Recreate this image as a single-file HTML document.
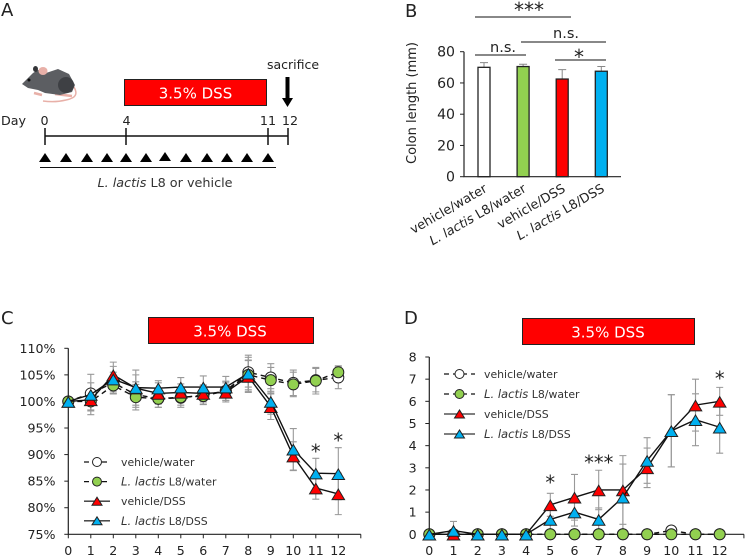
<!DOCTYPE html>
<html lang="en">
<head>
<meta charset="utf-8">
<title>DSS colitis figure</title>
<style>
html,body{margin:0;padding:0;background:#fff;}
svg{display:block;font-family:"DejaVu Sans","Liberation Sans",sans-serif;fill:#222;}
</style>
</head>
<body>
<svg id="fig" width="745" height="558" viewBox="0 0 745 558" xmlns="http://www.w3.org/2000/svg">
<rect x="0" y="0" width="745" height="558" fill="#fff"/>

<!-- Panel A -->
<g>
<text x="1" y="16" font-size="18">A</text>
<g>
<path d="M74 87 C78 94 76 98 66 100 C58 102 50 102 43 101" fill="none" stroke="#e8b0a8" stroke-width="1.500"/>
<path d="M34 93 L42 95 M55 94 L72 96" stroke="#e8b0a8" stroke-width="2.500" fill="none"/>
<path d="M22 84 L33 73 L38 70 L46 73 L58 69 L69 74 L75 85 L72 92 L60 95 L45 93 L38 90 L28 88 Z" fill="#5c5e62"/>
<ellipse cx="43" cy="71" rx="4.500" ry="4" fill="#e8b0a8"/>
<ellipse cx="35.500" cy="69" rx="2.500" ry="3" fill="#333538"/>
<circle cx="29" cy="80" r="1.500" fill="#111"/>
<ellipse cx="66" cy="85" rx="8" ry="8" fill="#3e4044"/>
</g>
<rect x="124.500" y="79.500" width="142" height="26" fill="#ff0000" stroke="#222" stroke-width="1"/>
<text x="195.500" y="98.500" font-size="15" text-anchor="middle" fill="#fff">3.5% DSS</text>
<text x="267" y="69" font-size="12.500">sacrifice</text>
<path d="M285.500 77 H289.500 V98 H293 L287.500 107 L282 98 H285.500 Z" fill="#000"/>
<text x="1" y="125" font-size="12.700">Day</text>
<text x="44.500" y="125" font-size="12.700" text-anchor="middle">0</text>
<text x="126.500" y="125" font-size="12.700" text-anchor="middle">4</text>
<text x="268" y="125" font-size="12.700" text-anchor="middle">11</text>
<text x="290" y="125" font-size="12.700" text-anchor="middle">12</text>
<path d="M45 136 H288 M45 128 V145 M126 128 V145 M268 128 V145 M288 128 V145" stroke="#111" stroke-width="1.500" fill="none"/>
<g fill="#000">
<polygon points="39,162 51,162 45,153"/>
<polygon points="60,162 72,162 66,153"/>
<polygon points="81,162 93,162 87,153"/>
<polygon points="101,162 113,162 107,153"/>
<polygon points="120,162 132,162 126,153"/>
<polygon points="140,162 152,162 146,153"/>
<polygon points="159,161 171,161 165,152"/>
<polygon points="180,162 192,162 186,153"/>
<polygon points="201,162 213,162 207,153"/>
<polygon points="221,162 233,162 227,153"/>
<polygon points="241,162 253,162 247,153"/>
<polygon points="262,162 274,162 268,153"/>
</g>
<line x1="40" y1="167.500" x2="276" y2="167.500" stroke="#111" stroke-width="1"/>
<text x="165" y="187" font-size="12.800" text-anchor="middle" fill="#333"><tspan font-style="italic">L. lactis</tspan> L8 or vehicle</text>
</g>

<!-- Panel letters and titles -->
<text x="405" y="17" font-size="18">B</text>
<text x="1" y="324" font-size="18">C</text>
<text x="404" y="324" font-size="18">D</text>
<rect x="148.500" y="317.500" width="165" height="26" fill="#ff0000" stroke="#222"/>
<text x="230" y="336.500" font-size="15" text-anchor="middle" fill="#fff">3.5% DSS</text>
<rect x="522.500" y="318.500" width="172" height="26" fill="#ff0000" stroke="#222"/>
<text x="608" y="337.500" font-size="15" text-anchor="middle" fill="#fff">3.5% DSS</text>

<!-- Panel B significance -->
<g>
<text x="529" y="17" font-size="20" text-anchor="middle">***</text>
<line x1="475" y1="17" x2="571" y2="17" stroke="#111"/>
<text x="566" y="38" font-size="14.500" text-anchor="middle">n.s.</text>
<line x1="521" y1="42" x2="606" y2="42" stroke="#111"/>
<text x="503" y="52" font-size="14.500" text-anchor="middle">n.s.</text>
<line x1="475" y1="55" x2="526" y2="55" stroke="#111"/>
<text x="579" y="64" font-size="20" text-anchor="middle">*</text>
<line x1="555" y1="60" x2="606" y2="60" stroke="#111"/>
</g>

<script>
// Panel B data
var barGroups = ['vehicle/water', 'L. lactis L8/water', 'vehicle/DSS', 'L. lactis L8/DSS'];
var barValues = [70, 70.5, 62.5, 67.5];
var barErrors = [3, 1.5, 6, 3];
var barTicks = [0, 20, 40, 60, 80];

// Panels C and D shared
var days = [0, 1, 2, 3, 4, 5, 6, 7, 8, 9, 10, 11, 12];
var seriesNames = ['vehicle/water', 'L. lactis L8/water', 'vehicle/DSS', 'L. lactis L8/DSS'];

// Panel C data: body weight (%)
var weightTicks = [75, 80, 85, 90, 95, 100, 105, 110];
var weightWater = [100, 101.5, 103.5, 101.3, 100.5, 100.7, 101.2, 102, 105.5, 104.5, 103.5, 104, 104.5];
var weightL8Water = [100, 100, 103, 100.8, 100.5, 100.8, 101, 102, 105, 104, 103.2, 103.9, 105.5];
var weightDss = [100, 100.3, 105, 102.5, 101.5, 101.7, 101.5, 101.7, 104.7, 99, 89.7, 83.7, 82.6];
var weightL8Dss = [100, 101.3, 104.2, 102.6, 102.5, 102.7, 102.7, 102.7, 105.3, 100, 91, 86.5, 86.4];
var weightWaterErr = [0, 2, 2, 2.4, 1.6, 1.8, 1.8, 1.8, 2.8, 2.6, 2.4, 2.2, 2.1];
var weightL8WaterErr = [0, 1.8, 1.6, 2.4, 1.6, 1.5, 1.5, 1.8, 2.8, 2.4, 2.3, 2.5, 1.2];
var weightDssErr = [0, 1.9, 2.4, 2.5, 2, 1.6, 1.6, 1.8, 3, 2.4, 2.7, 2.1, 3.9];
var weightL8DssErr = [0, 3.8, 2.4, 3.3, 1.4, 1.8, 2.1, 2, 3.4, 2.4, 3.9, 2.8, 4.9];

// Panel D data: disease activity score
var scoreTicks = [0, 1, 2, 3, 4, 5, 6, 7, 8];
var scoreWater = [0, 0, 0, 0, 0, 0, 0, 0, 0, 0, 0.17, 0, 0];
var scoreL8Water = [0, 0, 0, 0, 0, 0, 0, 0, 0, 0, 0, 0, 0];
var scoreDss = [0, 0, 0, 0, 0, 1.33, 1.67, 2, 2, 3, 4.67, 5.83, 6];
var scoreL8Dss = [0, 0.17, 0, 0, 0, 0.67, 1, 0.67, 1.67, 3.33, 4.67, 5.17, 4.83];
var scoreWaterErr = [0, 0, 0, 0, 0, 0, 0, 0, 0, 0, 0, 0, 0];
var scoreL8WaterErr = [0, 0, 0, 0, 0, 0, 0, 0, 0, 0, 0, 0, 0];
var scoreDssErr = [0, 0, 0, 0, 0, 0.52, 1.03, 0.89, 1.55, 0.89, 1.63, 1.17, 0.63];
var scoreL8DssErr = [0, 0.41, 0, 0, 0, 0.52, 0.63, 0.52, 1.5, 1.03, 1.63, 1.17, 1.17];

var svg = document.getElementById('fig');
var NS = 'http://www.w3.org/2000/svg';

function mk(tag, attrs, parent) {
  var e = document.createElementNS(NS, tag);
  for (var k in attrs) { e.setAttribute(k, attrs[k]); }
  (parent || svg).appendChild(e);
  return e;
}
function label(e, name) {
  
  
  return e;
}
function italicise(t, str, italicSize) {
  if (str.indexOf('L. lactis') === 0) {
    var a = mk('tspan', {'font-style': 'italic'}, t);
    if (italicSize) { a.setAttribute('font-size', italicSize); }
    a.textContent = 'L. lactis';
    var b = mk('tspan', {}, t);
    b.textContent = str.slice(9);
  } else {
    t.textContent = str;
  }
}

/* ---------- Panel B ---------- */
(function () {
  var left = 464, base = 176.7, top80 = 51.7, bx0 = 484, bdx = 39.1;
  var y = function (v) { return base - (v / 80) * (base - top80); };
  var x = function (i) { return bx0 + i * bdx; };
  var colors = ['#ffffff', '#92d050', '#ff0000', '#00b0f0'];
  var g = mk('g', {});
  
  
  var yl = mk('text', {x: 0, y: 0, 'font-size': 13, 'text-anchor': 'middle', transform: 'translate(416,103) rotate(-90)'}, g);
  yl.textContent = 'Colon length (mm)';
  
  
  barGroups.forEach(function (name, i) {
    var err = mk('path', {d: 'M' + x(i) + ' ' + y(barValues[i]) + ' V' + y(barValues[i] + barErrors[i]) + ' M' + (x(i) - 4) + ' ' + y(barValues[i] + barErrors[i]) + ' H' + (x(i) + 4), stroke: '#888', 'stroke-width': 1, fill: 'none'}, g);
    
    
    var bar = mk('rect', {x: x(i) - 6, y: y(barValues[i]), width: 12, height: base - y(barValues[i]), fill: colors[i], stroke: '#222', 'stroke-width': 1.3}, g);
    
    
    var t = mk('text', {x: 0, y: 0, 'font-size': 12.8, 'text-anchor': 'end', transform: 'translate(' + (x(i) + 4) + ',191) rotate(-30)'}, g);
    italicise(t, name);
    
    
  });
  var ax = mk('path', {d: 'M' + left + ' ' + top80 + ' V' + base + ' H621', stroke: '#222', fill: 'none', 'stroke-width': 1.2}, g);
  
  
  barTicks.forEach(function (v) {
    var tk = mk('line', {x1: left - 4, x2: left, y1: y(v), y2: y(v), stroke: '#222'}, g);
    
    
    var t = mk('text', {x: 455, y: y(v) + 5, 'font-size': 14.1, 'text-anchor': 'end'}, g);
    t.textContent = v;
    
    
  });
})();

/* ---------- Line charts ---------- */
function lineChart(cfg) {
  var g = mk('g', {});
  label(g, cfg.name);
  var x = function (d) { return cfg.x0 + d * cfg.dx; };
  var y = function (v) { return cfg.y0 - (v - cfg.min) / (cfg.max - cfg.min) * (cfg.y0 - cfg.y1); };

  // axes
  label(mk('path', {d: 'M' + cfg.x0 + ' ' + cfg.y1 + ' V' + cfg.y0 + ' H' + x(13), stroke: '#222', fill: 'none', 'stroke-width': 1.2}, g), cfg.name + '-axes');
  cfg.yTicks.forEach(function (v) {
    label(mk('line', {x1: cfg.x0 - 4, x2: cfg.x0, y1: y(v), y2: y(v), stroke: '#222'}, g), 'y-tick');
    var t = mk('text', {x: cfg.yLabelX, y: y(v) + 4.5, 'font-size': 12.6, 'text-anchor': 'end'}, g);
    t.textContent = v + cfg.suffix;
    label(t, 'y-tick-label');
  });
  days.concat([13]).forEach(function (d) {
    label(mk('line', {x1: x(d), x2: x(d), y1: cfg.y0, y2: cfg.y0 + 4, stroke: '#222'}, g), 'x-tick');
  });
  days.forEach(function (d) {
    var t = mk('text', {x: x(d), y: 555, 'font-size': 12.6, 'text-anchor': 'middle'}, g);
    t.textContent = d;
    label(t, 'x-tick-label');
  });

  var styles = [
    {fill: '#ffffff', shape: 'circle', dash: '5 4'},
    {fill: '#92d050', shape: 'circle', dash: '5 4'},
    {fill: '#ff0000', shape: 'tri', dash: ''},
    {fill: '#00b0f0', shape: 'tri', dash: ''}
  ];
  function marker(px, py, st, parent) {
    if (st.shape === 'circle') {
      return mk('circle', {cx: px, cy: py, r: cfg.r, fill: st.fill, stroke: '#222', 'stroke-width': 1}, parent);
    }
    var w = cfg.tw, h = cfg.th;
    return mk('polygon', {points: (px - w / 2) + ',' + (py + h / 2 + 0.5) + ' ' + (px + w / 2) + ',' + (py + h / 2 + 0.5) + ' ' + px + ',' + (py - h / 2 + 0.5), fill: st.fill, stroke: '#222', 'stroke-width': 1}, parent);
  }

  // error bars under everything
  cfg.values.forEach(function (vals, s) {
    vals.forEach(function (v, i) {
      var e = cfg.errors[s][i];
      if (!e) { return; }
      var yt = y(v + e), yb = y(v - e), px = x(days[i]);
      label(mk('path', {d: 'M' + px + ' ' + yt + ' V' + yb + ' M' + (px - 3.5) + ' ' + yt + ' H' + (px + 3.5) + ' M' + (px - 3.5) + ' ' + yb + ' H' + (px + 3.5), stroke: '#999', 'stroke-width': 1.1, fill: 'none'}, g), 'error-bar');
    });
  });
  // lines and markers
  cfg.values.forEach(function (vals, s) {
    var st = styles[s];
    var pts = vals.map(function (v, i) { return x(days[i]) + ',' + y(v); }).join(' ');
    var attrs = {points: pts, fill: 'none', stroke: '#111', 'stroke-width': 1.4};
    if (st.dash) { attrs['stroke-dasharray'] = st.dash; }
    label(mk('polyline', attrs, g), 'series-line');
    vals.forEach(function (v, i) {
      label(marker(x(days[i]), y(v), st, g), 'series-point');
    });
  });
  // legend
  seriesNames.forEach(function (n, s) {
    var st = styles[s];
    var ly = cfg.legendY + s * cfg.legendStep;
    var attrs = {x1: cfg.legendX1, x2: cfg.legendX2, y1: ly, y2: ly, stroke: s < 2 ? '#111' : '#333', 'stroke-width': 1.3};
    if (st.dash) { attrs['stroke-dasharray'] = '5 4'; }
    label(mk('line', attrs, g), 'legend-line');
    var m = (cfg.legendX1 + cfg.legendX2) / 2;
    if (st.shape === 'circle') {
      label(mk('circle', {cx: m, cy: ly, r: 4.5, fill: st.fill, stroke: '#222'}, g), 'legend-marker');
    } else {
      label(mk('polygon', {points: (m - 5) + ',' + (ly + 4) + ' ' + (m + 5) + ',' + (ly + 4) + ' ' + m + ',' + (ly - 4), fill: st.fill, stroke: '#222'}, g), 'legend-marker');
    }
    var t = mk('text', {x: cfg.legendTextX, y: ly + 4, 'font-size': 10.9, fill: '#333'}, g);
    italicise(t, n, 11.6);
    label(t, 'legend-label');
  });
  // significance
  cfg.stars.forEach(function (s) {
    var t = mk('text', {x: x(s.day), y: s.y, 'font-size': 19.5, 'text-anchor': 'middle'}, g);
    t.textContent = s.text;
    label(t, 'significance-stars');
  });
}

lineChart({
  name: 'body-weight-chart', x0: 68.3, dx: 22.5, y0: 534.3, y1: 348.3, min: 75, max: 110,
  yTicks: weightTicks, suffix: '%', yLabelX: 55.5,
  values: [weightWater, weightL8Water, weightDss, weightL8Dss],
  errors: [weightWaterErr, weightL8WaterErr, weightDssErr, weightL8DssErr],
  r: 5.5, tw: 12.5, th: 10.5,
  legendX1: 84, legendX2: 110, legendY: 462, legendStep: 19.6, legendTextX: 121,
  stars: [{day: 11, y: 458, text: '*'}, {day: 12, y: 447, text: '*'}]
});

lineChart({
  name: 'disease-score-chart', x0: 429.3, dx: 24.2, y0: 534.3, y1: 357, min: 0, max: 8,
  yTicks: scoreTicks, suffix: '', yLabelX: 416.7,
  values: [scoreWater, scoreL8Water, scoreDss, scoreL8Dss],
  errors: [scoreWaterErr, scoreL8WaterErr, scoreDssErr, scoreL8DssErr],
  r: 5.5, tw: 12.5, th: 10.5,
  legendX1: 444, legendX2: 475, legendY: 374, legendStep: 20, legendTextX: 484,
  stars: [{day: 5, y: 489, text: '*'}, {day: 7, y: 469, text: '***'}, {day: 12, y: 385, text: '*'}]
});
</script>
</svg>
</body>
</html>
